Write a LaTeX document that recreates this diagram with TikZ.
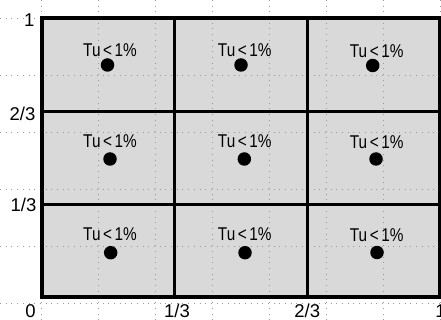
\documentclass[tikz,border=0pt]{standalone}
\usepackage{fontspec}
\setmainfont{Liberation Sans}
\begin{document}
\begin{tikzpicture}[x=1pt,y=-1pt,
  gridline/.style={draw=black!40, line width=0.8pt, dash pattern=on 1pt off 4.7pt},
  frameline/.style={draw=black, line width=4pt},
  innerline/.style={draw=black, line width=3.4pt},
  tulabel/.style={anchor=base, inner sep=0pt, font=\fontsize{18.5}{22}\selectfont, xscale=0.83},
  axlabel/.style={inner sep=0pt, font=\fontsize{18.5}{22}\selectfont},
  probe/.style={circle, fill=black, inner sep=0pt, minimum size=13.5pt}]
\useasboundingbox (0,0) rectangle (441,320);
% cell fill
\fill[black!15] (41.8,18.5) rectangle (440,297);
% dotted grid
\foreach \k in {0,...,7} {
  \draw[gridline] ({41.8+56.9*\k},0) -- ({41.8+56.9*\k},320);
}
\foreach \k in {0,...,5} {
  \draw[gridline] (0,{18.5+56.9*\k}) -- (441,{18.5+56.9*\k});
}
% inner lines
\draw[innerline] (174.7,18.5) -- (174.7,297);
\draw[innerline] (307.6,18.5) -- (307.6,297);
\draw[innerline] (41.8,111.5) -- (440,111.5);
\draw[innerline] (41.8,204.5) -- (440,204.5);
% outer frame
\draw[frameline] (41.8,18.5) rectangle (439.8,297);
% labels and probes
\node[tulabel] (t11) at (110,56.5) {Tu\,<\,1\%};
\node[tulabel] (t12) at (244.8,56.7) {Tu\,<\,1\%};
\node[tulabel] (t13) at (376.7,57.3) {Tu\,<\,1\%};
\node[tulabel] (t21) at (110,147.5) {Tu\,<\,1\%};
\node[tulabel] (t22) at (244.8,148) {Tu\,<\,1\%};
\node[tulabel] (t23) at (376.7,148.3) {Tu\,<\,1\%};
\node[tulabel] (t31) at (110,240.7) {Tu\,<\,1\%};
\node[tulabel] (t32) at (244.8,240.7) {Tu\,<\,1\%};
\node[tulabel] (t33) at (376.7,241) {Tu\,<\,1\%};
\node[probe] (p11) at (107.5,65) {};
\node[probe] (p12) at (241,65) {};
\node[probe] (p13) at (372.7,65.5) {};
\node[probe] (p21) at (110,159) {};
\node[probe] (p22) at (244.3,159) {};
\node[probe] (p23) at (376,159) {};
\node[probe] (p31) at (110.7,252.7) {};
\node[probe] (p32) at (245,252.7) {};
\node[probe] (p33) at (377,252.5) {};
% axis labels
\node[axlabel, anchor=base east] (y1) at (34.5,26.8) {1};
\node[axlabel, anchor=base east] (y23) at (35.5,120.5) {2/3};
\node[axlabel, anchor=base east] (y13) at (36.5,211.5) {1/3};
\node[axlabel, anchor=base] (x0) at (30.5,317) {0};
\node[axlabel, anchor=base] (x13) at (177,317) {1/3};
\node[axlabel, anchor=base] (x23) at (307.3,317) {2/3};
\node[axlabel, anchor=base] (x1) at (440.5,317) {1};
\end{tikzpicture}
\end{document}
